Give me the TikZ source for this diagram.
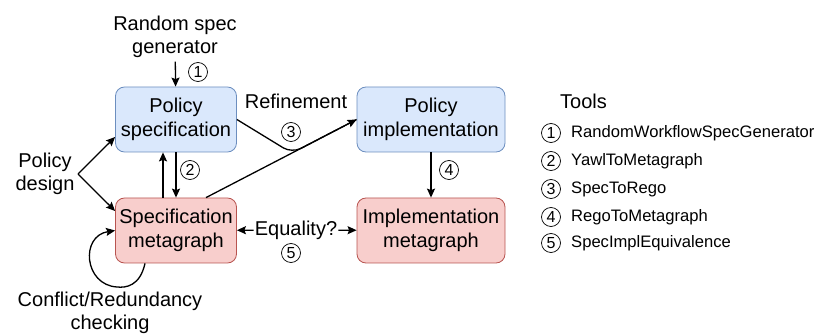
\documentclass[tikz,border=0pt]{standalone}
\usepackage{fontspec}
\setmainfont{Liberation Sans}
\usetikzlibrary{arrows.meta,calc}
\definecolor{specfill}{HTML}{DAE8FC}
\definecolor{specline}{HTML}{6C8EBF}
\definecolor{mgfill}{HTML}{F8CECC}
\definecolor{mgline}{HTML}{B85450}
\begin{document}
\begin{tikzpicture}[x=1pt, y=-1pt, >={Stealth[length=9pt,width=8pt,inset=1.5pt]},
    every node/.style={font=\fontsize{20}{23.5}\selectfont, align=center},
    box/.style={draw, rounded corners=9pt, line width=0.8pt, minimum height=65pt},
    policybox/.style={box, fill=specfill, draw=specline},
    graphbox/.style={box, fill=mgfill, draw=mgline},
    toolnum/.style={circle, draw, line width=0.7pt, inner sep=0pt, minimum size=19pt,
      font=\fontsize{16}{16}\selectfont},
    legend/.style={anchor=west, inner sep=0pt, font=\fontsize{16.6}{18}\selectfont},
    link/.style={line width=1.3pt}]
  \useasboundingbox (0,0) rectangle (823,334);
  % the four boxes
  \node[policybox, minimum width=121pt] (PS) at (176,119.5) {Policy\\specification};
  \node[policybox, minimum width=148pt] (PI) at (431,119.5) {Policy\\implementation};
  \node[graphbox, minimum width=121pt] (SM) at (176,230.5) {Specification\\metagraph};
  \node[graphbox, minimum width=148pt] (IM) at (431,230.5) {Implementation\\metagraph};
  % free labels
  \node (gen) at (175,37) {Random spec\\generator};
  \node (design) at (45,174) {Policy\\design};
  \node (refine) at (296,101) {Refinement};
  \node[inner sep=1pt] (eq) at (296,230) {Equality?};
  \node (check) at (110,313) {Conflict/Redundancy\\checking};
  % circled tool numbers
  \node[toolnum] (n1) at (198,72) {1};
  \node[toolnum] (n2) at (190,170) {2};
  \node[toolnum] (n3) at (291,132) {3};
  \node[toolnum] (n4) at (449,170) {4};
  \node[toolnum] (n5) at (291,253) {5};
  % edges
  \draw[link,->] (gen) -- (PS);
  \draw[link,->] (design.east) -- ([yshift=-17.5pt]PS.west);
  \draw[link,->] (design.east) -- ([yshift=19.5pt]SM.west);
  \draw[link,->] (PS) -- (SM);
  \draw[link,->] ([xshift=-13pt]SM.north) -- ([xshift=-13pt]PS.south);
  \draw[link,->] (PI) -- (IM);
  \coordinate (smtop) at ([xshift=30pt]SM.north);
  \coordinate (mrg) at ($(smtop)!0.57!(PI.west)$);
  \draw[link,->] (smtop) -- (PI.west);
  \draw[link,rounded corners=10pt] (PS.east) -- (mrg) -- (PI.west);
  \draw[link,->] (eq) -- (SM);
  \draw[link,->] (eq) -- (IM);
  \draw[link,->] ([xshift=-31pt]SM.south) .. controls (140,286) and (126,288) .. (117,287)
    .. controls (84,285) and (80,236) .. (SM.west);
  % tool list
  \node[anchor=west, inner sep=0pt] (tools) at (560,101) {Tools};
  \node[toolnum] (t1) at (551,133) {1};
  \node[toolnum] (t2) at (551,161) {2};
  \node[toolnum] (t3) at (551,189) {3};
  \node[toolnum] (t4) at (551,217) {4};
  \node[toolnum] (t5) at (551,243) {5};
  \node[legend] at (571,133) {RandomWorkflowSpecGenerator};
  \node[legend] at (571,161) {YawlToMetagraph};
  \node[legend] at (571,189) {SpecToRego};
  \node[legend] at (571,217) {RegoToMetagraph};
  \node[legend] at (571,243) {SpecImplEquivalence};
\end{tikzpicture}
\end{document}
